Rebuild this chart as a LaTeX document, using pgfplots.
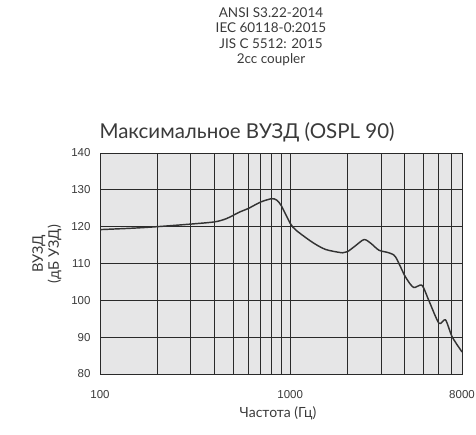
\documentclass[border=0pt]{standalone}
\usepackage{pgfplots}
\pgfplotsset{compat=1.18}
\usepackage{fontspec}
\setmainfont{Liberation Sans}
\newfontfamily\hfont{Lato}
\definecolor{bgc}{HTML}{E6E6E7}
\definecolor{gridc}{HTML}{2A2A2A}
\definecolor{curvec}{HTML}{333333}
\definecolor{txtc}{HTML}{3A3A3A}
\begin{document}
\begin{tikzpicture}
\path[use as bounding box] (0pt,0pt) rectangle (476pt,434pt);
\begin{axis}[
  at={(100pt,60pt)}, anchor=south west,
  scale only axis, width=362pt, height=221pt,
  xmode=log, xmin=100, xmax=8000, ymin=80, ymax=140,
  xtick={100,1000,8000}, xticklabels={100,1000,8000},
  minor xtick={200,300,400,500,600,700,800,900,2000,3000,4000,5000,6000,7000},
  ytick={80,90,...,140},
  grid=both,
  major grid style={gridc, line width=0.75pt},
  minor grid style={gridc, line width=0.75pt},
  axis line style={gridc, line width=0.75pt},
  major tick length=0pt, minor tick length=0pt,
  axis background/.style={fill=bgc},
  tick label style={font=\fontsize{11.5}{13}\selectfont, text=txtc},
  /pgf/number format/assume math mode=true,
  xticklabel style={yshift=-13pt},
  yticklabel style={xshift=-6pt},
  log ticks with fixed point,
]
\addplot[curvec, line width=1.45pt, smooth, tension=0.45] coordinates {
(100,119.2) (150,119.6) (200,120.0) (300,120.7) (400,121.3) (463,122.2)
(543,124.0) (600,124.9) (700,126.7) (800,127.6) (850,127.2) (900,125.6)
(1000,120.9) (1075,119.0) (1313,115.7) (1537,113.8) (1880,112.9) (2000,113.2)
(2200,114.8) (2444,116.5) (2650,115.5) (2930,113.6) (3303,112.9) (3577,111.8)
(4030,106.4) (4450,103.5) (4925,104.1) (5340,100.1) (6050,93.8) (6550,94.7)
(7100,90.1) (8000,86.0)
};
\end{axis}
\node[font=\hfont\fontsize{13.5}{15.4}\selectfont, text=txtc, align=center, anchor=north] at (271pt,430pt)
  {ANSI S3.22-2014\\IEC 60118-0:2015\\JIS C 5512: 2015\\2cc coupler};
\node[font=\hfont\fontsize{20.5}{24}\selectfont, text=txtc, anchor=base west] at (96pt,295pt) {Максимальное ВУЗД (OSPL 90)};
\node[font=\hfont\fontsize{14.5}{16}\selectfont, text=txtc, align=center, rotate=90] at (47pt,180pt) {ВУЗД\\(дБ УЗД)};
\node[font=\hfont\fontsize{14}{16}\selectfont, text=txtc] at (278pt,21pt) {Частота (Гц)};
\end{tikzpicture}
\end{document}
